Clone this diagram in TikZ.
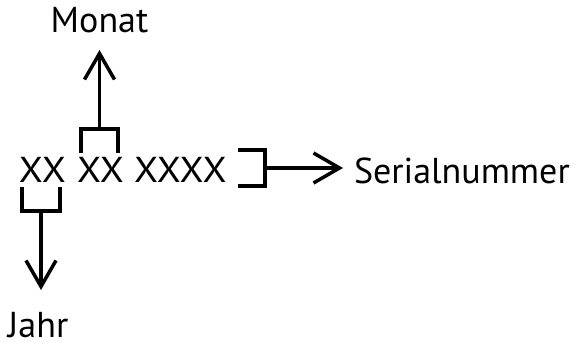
\documentclass[tikz,border=0pt]{standalone}
\usepackage{fontspec}
\setmainfont{PT Sans}
\usetikzlibrary{arrows.meta}
\begin{document}
\begin{tikzpicture}[x=1pt,y=-1pt,
  lbl/.style={inner sep=0pt,outer sep=0pt,font=\fontsize{36}{40}\selectfont},
  brk/.style={line width=3.5pt,line join=miter},
  arr/.style={line width=3.5pt,-{Straight Barb[length=26pt,width=30pt,line width=3.5pt]}}]
\useasboundingbox (0,0) rectangle (576,345);
\node[lbl,anchor=base west] (g1) at (19,182) {\scalebox{1.08}[1]{XX}};
\node[lbl,anchor=base west] (g2) at (77,182) {\scalebox{1.08}[1]{XX}};
\node[lbl,anchor=base west] (g3) at (134,182) {\scalebox{1.08}[1]{XXXX}};
\node[lbl,anchor=base] (monat) at (99.5,33) {Monat};
\node[lbl,anchor=base west] (jahr) at (8,337) {Jahr};
\node[lbl,anchor=base west] (serial) at (354,183) {Serialnummer};
% brackets
\coordinate (yb) at (41,211);
\coordinate (mb) at (99.5,129);
\coordinate (sb) at (265,168);
\draw[brk] (22,187) -- (22,211) -- (60,211) -- (60,187);
\draw[brk] (81,153) -- (81,129) -- (118,129) -- (118,153);
\draw[brk] (238,150) -- (265,150) -- (265,186) -- (238,186);
% arrows
\draw[arr] (yb) -- (41,290);
\draw[arr] (mb) -- (99.5,50);
\draw[arr] (sb) -- (343,168);
\end{tikzpicture}
\end{document}
